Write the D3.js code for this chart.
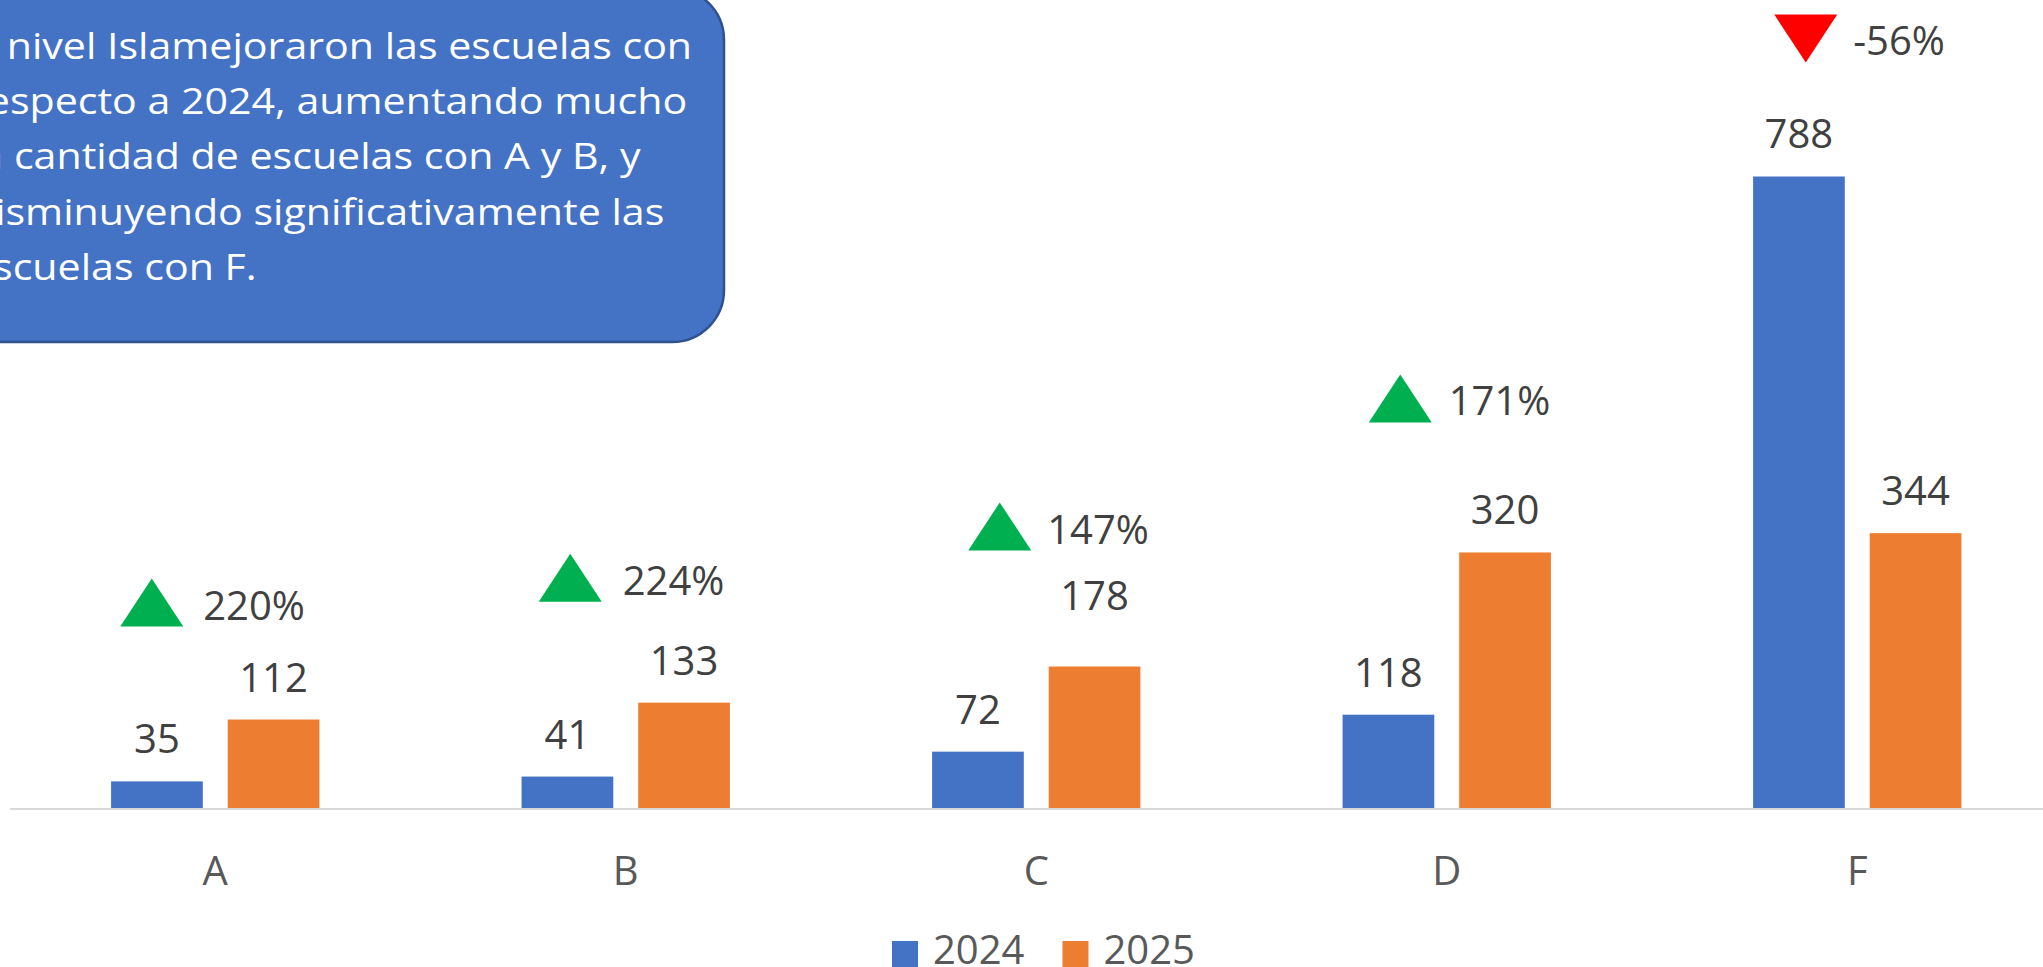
<!DOCTYPE html>
<html>
<head>
<meta charset="utf-8">
<script src="https://cdn.jsdelivr.net/npm/d3@7"></script>
<style>
  html, body { margin: 0; padding: 0; background: #ffffff; overflow: hidden; }
  svg { display: block; font-family: "Open Sans", "Noto Sans", sans-serif; }
</style>
</head>
<body>
<svg id="chart" width="2043" height="967"></svg>
<script>
// ---------- data ----------
const categories = ["A", "B", "C", "D", "F"];
const seriesNames = ["2024", "2025"];
const values2024 = [35, 41, 72, 118, 788];
const values2025 = [112, 133, 178, 320, 344];
const changeLabels = ["220%", "224%", "147%", "171%", "-56%"];
const changeDirections = ["up", "up", "up", "up", "down"];
const noteLines = [
  "A nivel Islamejoraron las escuelas con",
  "respecto a 2024, aumentando mucho",
  "la cantidad de escuelas con A y B, y",
  "disminuyendo significativamente las",
  "escuelas con F."
];

// ---------- layout (pixels, not data) ----------
const annTriDx = [-95, -87, -68, -78, -83];   // triangle left relative to category centre
const annTriDy = [93, 101, 116, 130, 114];    // triangle bottom above taller bar top
const annTextDx = [83, 84, 79, 80, 79];       // text start relative to triangle left
const labelLift2025 = [0, 0, 29, 0, 0];       // extra lift of some 2025 value labels

const W = 2043, H = 967;
const baseY = 809.5;
const colors = { "2024": "#4472C4", "2025": "#ED7D31" };

const svg = d3.select("#chart");

const x0 = d3.scaleBand()
  .domain(categories)
  .range([10, 2062.5])
  .paddingInner(0.4925)
  .paddingOuter(0.24625);

const x1 = d3.scaleBand()
  .domain(seriesNames)
  .range([0, x0.bandwidth()])
  .paddingInner(0.2136)
  .paddingOuter(0);

const y = d3.scaleLinear()
  .domain([0, 900])
  .range([baseY, baseY - 900 * 0.8033]);

const rows = categories.map((c, i) => ({
  cat: c,
  vals: [{ s: "2024", v: values2024[i], lift: 0 }, { s: "2025", v: values2025[i], lift: labelLift2025[i] }],
  i
}));

// bars
const groups = svg.append("g").selectAll("g.grp")
  .data(rows).join("g")
  .attr("class", "grp")
  .attr("transform", d => `translate(${x0(d.cat)},0)`);

groups.selectAll("rect")
  .data(d => d.vals).join("rect")
  .attr("x", d => x1(d.s))
  .attr("width", x1.bandwidth())
  .attr("y", d => y(d.v))
  .attr("height", d => y(0) - y(d.v))
  .attr("fill", d => colors[d.s]);

// value labels
groups.selectAll("text.val")
  .data(d => d.vals).join("text")
  .attr("class", "val")
  .attr("x", d => x1(d.s) + x1.bandwidth() / 2)
  .attr("y", d => y(d.v) - 28 - d.lift)
  .attr("text-anchor", "middle")
  .attr("font-size", 40)
  .attr("fill", "#404040")
  .text(d => d.v);

// x axis
const xAxis = d3.axisBottom(x0).tickSize(0).tickPadding(0);
const axG = svg.append("g")
  .attr("transform", `translate(0,${baseY - 0.5})`)
  .call(xAxis);
axG.select(".domain").attr("stroke", "#D9D9D9").attr("stroke-width", 2)
  .attr("d", `M10,0H${W}`);
axG.selectAll(".tick text")
  .attr("font-family", "Open Sans, Noto Sans, sans-serif")
  .attr("font-size", 40)
  .attr("fill", "#595959")
  .attr("dy", 0)
  .attr("y", 76);

// change annotations
const triW = 63, triH = 48;
const ann = svg.append("g");
rows.forEach((d, i) => {
  const cx = x0(d.cat) + x0.bandwidth() / 2;
  const topBar = y(Math.max(values2024[i], values2025[i]));
  const left = cx + annTriDx[i];
  const bottom = topBar - annTriDy[i];
  const top = bottom - triH;
  const up = changeDirections[i] === "up";
  const pts = up
    ? [[left, bottom], [left + triW / 2, top], [left + triW, bottom]]
    : [[left, top], [left + triW, top], [left + triW / 2, bottom]];
  ann.append("polygon")
    .attr("points", pts.map(p => p.join(",")).join(" "))
    .attr("fill", up ? "#00B050" : "#FF0000");
  ann.append("text")
    .attr("x", left + annTextDx[i])
    .attr("y", bottom - 7)
    .attr("font-size", 40)
    .attr("fill", "#404040")
    .text(changeLabels[i]);
});

// legend
const leg = svg.append("g");
let lx = 892;
seriesNames.forEach((s, i) => {
  leg.append("rect")
    .attr("x", lx).attr("y", 941)
    .attr("width", 26).attr("height", 26)
    .attr("fill", colors[s]);
  const t = leg.append("text")
    .attr("x", lx + 41).attr("y", 964)
    .attr("font-size", 40)
    .attr("fill", "#595959")
    .text(s);
  lx += 41 + t.node().getComputedTextLength() + 38;
});

// note box
const note = svg.append("g");
note.append("rect")
  .attr("x", -200).attr("y", -12)
  .attr("width", 924).attr("height", 354)
  .attr("rx", 52).attr("ry", 52)
  .attr("fill", "#4472C4")
  .attr("stroke", "#2F528F")
  .attr("stroke-width", 2.5);
note.append("g")
  .attr("transform", "scale(1.112,1)")
  .selectAll("text")
  .data(noteLines).join("text")
  .attr("x", -27)
  .attr("y", (d, i) => 59 + i * 55.2)
  .attr("font-size", 37)
  .attr("fill", "#ffffff")
  .text(d => d);
</script>
</body>
</html>
